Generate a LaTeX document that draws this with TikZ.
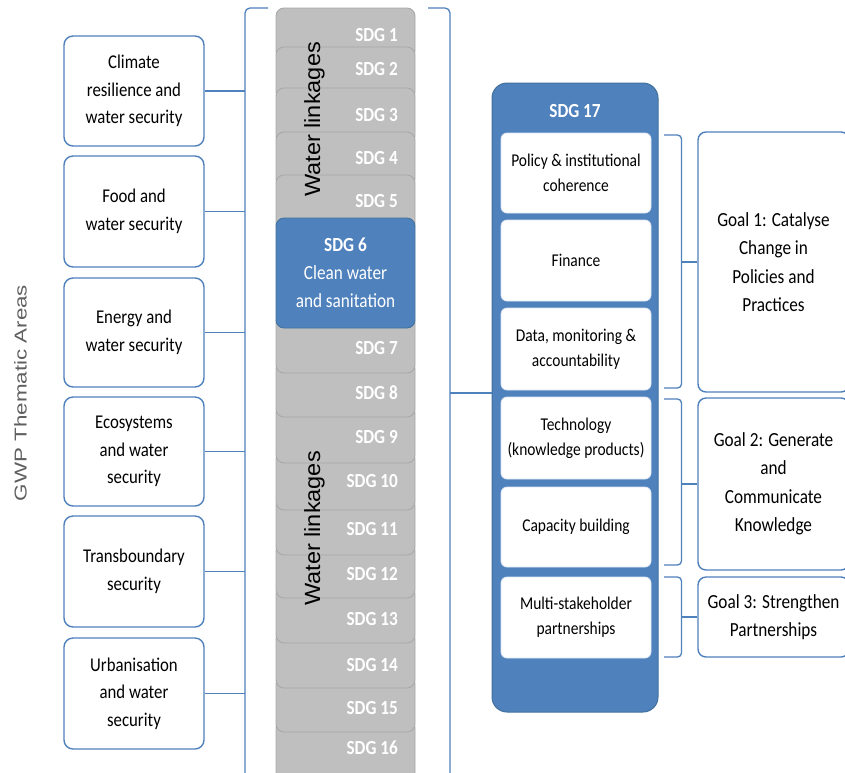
\documentclass[tikz,border=0pt]{standalone}
\usepackage{fontspec}
\setmainfont[FakeStretch=0.86]{Carlito}
\newfontfamily\gwpfont[FakeStretch=1.3]{Liberation Sans}
\newfontfamily\linkfont[FakeStretch=1.07]{Liberation Sans}
\definecolor{lblue}{HTML}{4F81BD}
\definecolor{dblue}{HTML}{41719C}
\definecolor{sgray}{HTML}{BFBFBF}
\definecolor{sedge}{HTML}{A8A8A8}
\definecolor{gwpgray}{HTML}{5F5F5F}
\tikzset{
  brk/.style={draw=lblue, line width=1.3pt, rounded corners=5pt},
  conn/.style={draw=lblue, line width=1.3pt},
  thema/.style={draw=lblue, line width=1.4pt, fill=white, rounded corners=9pt,
    minimum width=140pt, align=center, inner sep=0pt,
    font=\fontsize{19.5}{27.5}\selectfont},
  goalbox/.style={draw=lblue, line width=1.4pt, fill=white, rounded corners=8pt,
    minimum width=151pt, align=center, inner sep=0pt,
    font=\fontsize{20}{28.5}\selectfont},
  graybox/.style={draw=sedge, line width=0.9pt, fill=sgray, rounded corners=8pt},
  sdglab/.style={anchor=base east, text=white, inner sep=0pt,
    font=\bfseries\fontsize{20}{24}\selectfont},
  innerbox/.style={draw=white!80!lblue, line width=0.8pt, fill=white, rounded corners=6pt,
    minimum width=150pt, align=center, inner sep=0pt,
    font=\fontsize{18}{25}\selectfont},
}
\begin{document}
\begin{tikzpicture}[x=1pt,y=-1pt]
\useasboundingbox (0,0) rectangle (845,772);
\clip (0,0) rectangle (845,772);
\fill[white] (0,0) rectangle (845,772);

% GWP label
\node[rotate=90, text=gwpgray, font=\gwpfont\fontsize{17.2}{20}\selectfont, inner sep=0pt] (gwp) at (20.5,393) {GWP Thematic Areas};

% Thematic boxes
\node[thema, minimum height=110pt] (t1) at (134,91) {Climate\\resilience and\\water security};
\node[thema, minimum height=111pt] (t2) at (134,211.5) {Food and\\water security};
\node[thema, minimum height=109pt] (t3) at (134,332.5) {Energy and\\water security};
\node[thema, minimum height=109pt] (t4) at (134,451.5) {Ecosystems\\and water\\security};
\node[thema, minimum height=111pt] (t5) at (134,571.5) {Transboundary\\security};
\node[thema, minimum height=111pt] (t6) at (134,693.5) {Urbanisation\\and water\\security};

% Left bracket
\coordinate (LB) at (245,0);
\draw[brk] (268,8) -- (245,8) -- (245,790);
\foreach \t in {t1,t2,t3,t4,t5,t6} {\draw[conn] (\t.east) -- (\t.east -| LB);}

% Right bracket
\coordinate (RB) at (450,393);
\draw[brk] (428,8) -- (450,8) -- (450,790);

% Gray SDG column: upper items
\path[graybox] (276,8) rectangle (415,59);
\path[graybox] (276,47) rectangle (415,100);
\path[graybox] (276,88) rectangle (415,144);
\path[graybox] (276,132) rectangle (415,187);
\path[graybox] (276,175) rectangle (415,232);
% lower items (drawn bottom up)
\path[graybox] (276,720) rectangle (415,790);
\path[graybox] (276,676) rectangle (415,732);
\path[graybox] (276,631) rectangle (415,688);
\path[graybox] (276,586) rectangle (415,643);
\path[graybox] (276,543) rectangle (415,598);
\path[graybox] (276,498) rectangle (415,555);
\path[graybox] (276,451) rectangle (415,510);
\path[graybox] (276,405) rectangle (415,463);
\path[graybox] (276,361) rectangle (415,417);
\path[graybox] (276,314) rectangle (415,373);

% SDG 6
\node[draw=dblue, line width=0.8pt, fill=lblue, rounded corners=8pt, minimum width=139pt, minimum height=110pt,
  text=white, align=center, inner sep=0pt, font=\fontsize{20}{28}\selectfont] (s6) at (345.5,273)
  {\textbf{SDG 6}\\Clean water\\and sanitation};

% SDG labels
\node[sdglab] (l1) at (398,41) {SDG 1};
\node[sdglab] (l2) at (398,75) {SDG 2};
\node[sdglab] (l3) at (398,121) {SDG 3};
\node[sdglab] (l4) at (398,164) {SDG 4};
\node[sdglab] (l5) at (398,207) {SDG 5};
\node[sdglab] (l7) at (398,354) {SDG 7};
\node[sdglab] (l8) at (398,399) {SDG 8};
\node[sdglab] (l9) at (398,443) {SDG 9};
\node[sdglab] (l10) at (398,487) {SDG 10};
\node[sdglab] (l11) at (398,535) {SDG 11};
\node[sdglab] (l12) at (398,580) {SDG 12};
\node[sdglab] (l13) at (398,625) {SDG 13};
\node[sdglab] (l14) at (398,671) {SDG 14};
\node[sdglab] (l15) at (398,714) {SDG 15};
\node[sdglab] (l16) at (398,754) {SDG 16};

% Water linkages
\node[rotate=90, font=\linkfont\fontsize{22}{26}\selectfont, inner sep=0pt] (wl1) at (314.5,119.5) {Water linkages};
\node[rotate=90, font=\linkfont\fontsize{22}{26}\selectfont, inner sep=0pt] (wl2) at (314.5,528.5) {Water linkages};

% SDG 17 box
\node[draw=dblue, line width=1pt, fill=lblue, rounded corners=15pt, minimum width=166pt, minimum height=629pt, inner sep=0pt] (s17) at (575,397.5) {};
\node[anchor=base, text=white, inner sep=0pt, font=\bfseries\fontsize{20}{24}\selectfont] (s17lab) at (575,117) {SDG 17};
\draw[conn] (RB) -- (RB -| s17.west);

% Inner boxes
\node[innerbox, minimum height=80pt] (i1) at (576,173) {Policy \& institutional\\coherence};
\node[innerbox, minimum height=81pt] (i2) at (576,260.5) {Finance};
\node[innerbox, minimum height=82pt] (i3) at (576,349) {Data, monitoring \&\\accountability};
\node[innerbox, minimum height=82pt] (i4) at (576,438) {Technology\\(knowledge products)};
\node[innerbox, minimum height=80pt] (i5) at (576,527) {Capacity building};
\node[innerbox, minimum height=81pt] (i6) at (576,617.5) {Multi-stakeholder\\partnerships};

% Goal boxes
\node[goalbox, minimum height=260pt] (g1) at (773.5,262) {Goal 1: Catalyse\\Change in\\Policies and\\Practices};
\node[goalbox, minimum height=172pt] (g2) at (773.5,484) {Goal 2: Generate\\and\\Communicate\\Knowledge};
\node[goalbox, minimum height=80pt] (g3) at (773.5,617) {Goal 3: Strengthen\\Partnerships};

% Small brackets
\coordinate (BX) at (681.5,0);
\draw[brk, rounded corners=4pt] (664,135) -- (681.5,135) -- (681.5,388) -- (664,388);
\draw[brk, rounded corners=4pt] (664,399) -- (681.5,399) -- (681.5,565) -- (664,565);
\draw[brk, rounded corners=4pt] (664,577) -- (681.5,577) -- (681.5,657) -- (664,657);
\draw[conn] (g1.west -| BX) -- (g1.west);
\draw[conn] (g2.west -| BX) -- (g2.west);
\draw[conn] (g3.west -| BX) -- (g3.west);
\end{tikzpicture}
\end{document}
